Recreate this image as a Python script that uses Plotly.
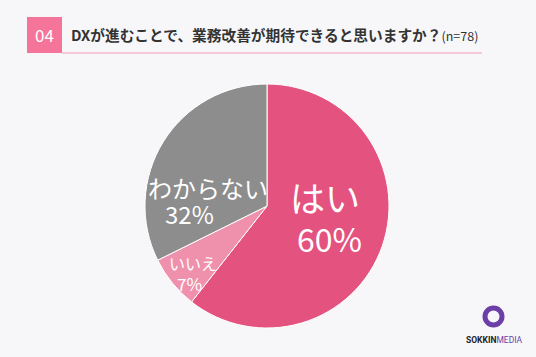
import plotly.graph_objects as go

labels = ["はい", "いいえ", "わからない"]
values = [60, 7, 32]
pct_text = ["60%", "7%", "32%"]
colors = ["#E4527F", "#EF91AD", "#8D8D8D"]

W, H = 536, 357
bg = "#F7F7F9"
font_jp = "Noto Sans CJK JP"

def px(x):
    return x / W

def py(y):
    return 1 - y / H

cx, cy, r = 267, 206, 122

fig = go.Figure(go.Pie(
    labels=labels,
    values=values,
    textinfo="none",
    sort=False,
    direction="clockwise",
    rotation=0,
    marker=dict(colors=colors, line=dict(color="white", width=1)),
    domain=dict(x=[px(cx - r), px(cx + r)], y=[py(cy + r), py(cy - r)]),
    showlegend=False,
    hoverinfo="label+percent",
))

# label placement (pixel centres) and sizes per slice
label_pos = [(325, 196), (193, 263), (208, 187)]
label_size = [35, 16, 24]
pct_pos = [(329, 238), (189, 283), (189, 213)]
pct_size = [32, 17, 24]

shapes = [
    dict(type="rect", xref="paper", yref="paper", x0=px(27), x1=px(62), y0=py(53), y1=py(17),
         fillcolor="#F47599", line=dict(width=0)),
    dict(type="line", xref="paper", yref="paper", x0=px(62), x1=px(482), y0=py(53), y1=py(53),
         line=dict(color="#F29AB2", width=1)),
    dict(type="circle", xref="paper", yref="paper", x0=px(485), x1=px(502), y0=py(325), y1=py(308),
         line=dict(color="#6C3FA8", width=5), fillcolor="rgba(0,0,0,0)"),
]

annotations = [
    dict(x=px(44.5), y=py(35), xref="paper", yref="paper", text="04", showarrow=False,
         font=dict(color="white", size=17, family=font_jp), xanchor="center", yanchor="middle"),
    dict(x=px(69), y=py(35), xref="paper", yref="paper",
         text="<b>DXが進むことで、業務改善が期待できると思いますか？</b><span style='font-size:12.5px'>(n=78)</span>",
         showarrow=False, font=dict(color="#333333", size=14.7, family=font_jp),
         xanchor="left", yanchor="middle"),
    dict(x=px(494), y=py(340), xref="paper", yref="paper",
         text="<b>SOKKIN</b><span style='color:#6C3FA8'>MEDIA</span>",
         showarrow=False, font=dict(color="#222222", size=8.5, family="Roboto"),
         xanchor="center", yanchor="middle"),
]

for lab, pct, lp, ls, pp, ps in zip(labels, pct_text, label_pos, label_size, pct_pos, pct_size):
    annotations.append(dict(x=px(lp[0]), y=py(lp[1]), xref="paper", yref="paper", text=lab,
                            showarrow=False, font=dict(color="white", size=ls, family=font_jp),
                            xanchor="center", yanchor="middle"))
    annotations.append(dict(x=px(pp[0]), y=py(pp[1]), xref="paper", yref="paper", text=pct,
                            showarrow=False, font=dict(color="white", size=ps, family=font_jp),
                            xanchor="center", yanchor="middle"))

fig.update_layout(
    width=W, height=H,
    margin=dict(l=0, r=0, t=0, b=0),
    paper_bgcolor=bg, plot_bgcolor=bg,
    shapes=shapes, annotations=annotations,
)

fig.write_html("out.html", config={"displayModeBar": False},
               post_script="document.body.style.margin='0';document.body.style.background='#F7F7F9';")
